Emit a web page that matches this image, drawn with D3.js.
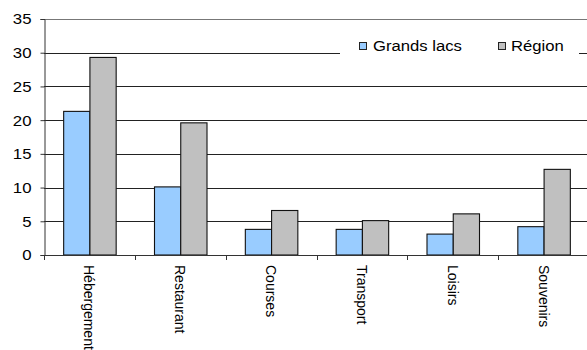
<!DOCTYPE html>
<html>
<head>
<meta charset="utf-8">
<script src="https://cdn.jsdelivr.net/npm/d3@7"></script>
<style>
  html, body { margin: 0; padding: 0; background: #fff; }
  svg { display: block; }
  text { font-family: "Liberation Sans", Arial, sans-serif; fill: #000; }
</style>
</head>
<body>
<svg id="chart" width="587" height="350"></svg>
<script>
// Dépenses par poste : Grands lacs vs Région
const categories = ["Hébergement", "Restaurant", "Courses", "Transport", "Loisirs", "Souvenirs"];
const seriesNames = ["Grands lacs", "Région"];
const grandsLacs = [21.3, 10.1, 3.8, 3.8, 3.1, 4.2];
const region = [29.3, 19.6, 6.6, 5.1, 6.1, 12.7];
const yTicks = [0, 5, 10, 15, 20, 25, 30, 35];
const colors = ["#99CCFF", "#C0C0C0"];

const svg = d3.select("#chart");
const plot = { left: 44, top: 19, right: 589, bottom: 255 };
const sx = 1.15; // horizontal text stretch

const x = d3.scaleBand().domain(categories).range([plot.left, plot.right]).padding(0);
const x1 = d3.scaleBand().domain(seriesNames).range([0, x.bandwidth()]).paddingInner(0).paddingOuter(0.73);
const y = d3.scaleLinear().domain([0, 35]).range([plot.bottom, plot.top]);

// horizontal gridlines
svg.append("g").selectAll("line").data(yTicks.filter(d => d > 0)).join("line")
  .attr("x1", plot.left).attr("x2", plot.right)
  .attr("y1", d => Math.round(y(d)) + 0.5).attr("y2", d => Math.round(y(d)) + 0.5)
  .attr("stroke", d => d === 35 ? "#777" : "#222").attr("stroke-width", 1);

// bars
const data = categories.map((c, i) => ({ c, vals: [grandsLacs[i], region[i]] }));
const groups = svg.append("g").selectAll("g").data(data).join("g")
  .attr("transform", d => `translate(${x(d.c)},0)`);
groups.selectAll("rect").data(d => d.vals.map((v, k) => ({ k, v }))).join("rect")
  .attr("x", d => x1(seriesNames[d.k]) + 0.5)
  .attr("y", d => y(d.v))
  .attr("width", x1.bandwidth())
  .attr("height", d => y(0) - y(d.v))
  .attr("fill", d => colors[d.k])
  .attr("stroke", "#111").attr("stroke-width", 1.1);

// legend (white box hiding gridline)
const lg = svg.append("g");
lg.append("rect").attr("x", 340).attr("y", 30).attr("width", 239).attr("height", 32).attr("fill", "#fff");
const legendItems = [{ name: seriesNames[0], sx: 359, tx: 373 }, { name: seriesNames[1], sx: 498, tx: 511 }];
legendItems.forEach((it, k) => {
  lg.append("rect").attr("x", it.sx + 0.5).attr("y", 42.5).attr("width", 7).attr("height", 7)
    .attr("fill", colors[k]).attr("stroke", "#222").attr("stroke-width", 1);
  lg.append("text").attr("transform", `translate(${it.tx},51) scale(${sx},1)`)
    .attr("font-size", 14.5).text(it.name);
});

// y axis
const yAxis = d3.axisLeft(y).tickValues(yTicks).tickSize(4).tickPadding(0).tickFormat(d3.format("d"));
const ya = svg.append("g").attr("transform", `translate(${plot.left + 0.5},0)`).call(yAxis);
ya.select(".domain").attr("stroke", "#333");
ya.selectAll(".tick line").attr("stroke", "#333");
ya.selectAll(".tick text").attr("font-size", 14).attr("font-family", "Liberation Sans, Arial, sans-serif")
  .attr("fill", "#000").attr("x", null).attr("dy", null)
  .attr("dominant-baseline", "central").attr("text-anchor", "end")
  .attr("transform", `translate(-13,0) scale(1.2,1)`);

// x axis line and category separator ticks
svg.append("line").attr("x1", plot.left).attr("x2", plot.right)
  .attr("y1", plot.bottom + 0.5).attr("y2", plot.bottom + 0.5).attr("stroke", "#333");
svg.append("g").selectAll("line").data(categories).join("line")
  .attr("x1", d => Math.round(x(d)) + 0.5).attr("x2", d => Math.round(x(d)) + 0.5)
  .attr("y1", plot.bottom).attr("y2", plot.bottom + 5).attr("stroke", "#333");

// rotated category labels
svg.append("g").selectAll("text").data(categories).join("text")
  .attr("transform", d => `translate(${x(d) + x.bandwidth() / 2},265) rotate(90)`)
  .attr("font-size", 14)
  .attr("dominant-baseline", "central")
  .text(d => d);
</script>
</body>
</html>
